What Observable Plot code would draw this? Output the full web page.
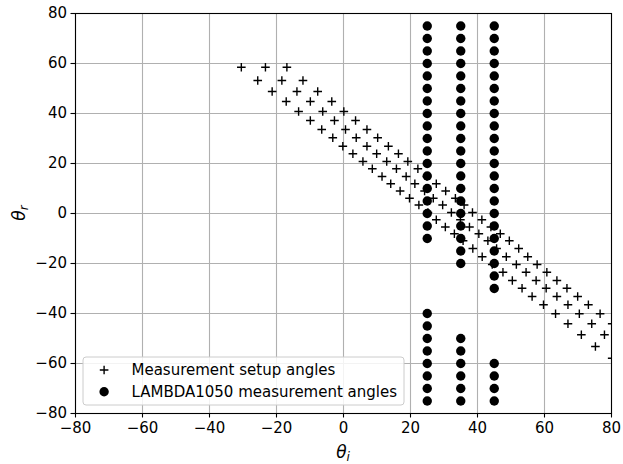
<!DOCTYPE html>
<html>
<head>
<meta charset="utf-8">
<script src="https://cdn.jsdelivr.net/npm/d3@7"></script>
<script src="https://cdn.jsdelivr.net/npm/@observablehq/plot@0.6"></script>
<style>
  html, body { margin: 0; padding: 0; background: #fff; }
  #chart svg { display: block; }
</style>
</head>
<body>
<div id="chart"></div>
<script>
// ---- data ----
const axisTicks = [-80, -60, -40, -20, 0, 20, 40, 60, 80];

// measurement setup angles: rows of equal theta_r, three parallel bands (A, B, C)
const setupThetaR = [58.5, 53.2, 48.8, 44.8, 40.8, 37.2, 33.6, 30.3, 26.9, 23.9, 20.8, 17.9, 14.8, 11.9, 9.0, 6.1, 3.4, 0.4, -2.5, -5.4, -8.1, -10.9, -14.0, -17.3, -20.4, -23.5, -26.8, -29.9, -33.2, -36.5, -40.1, -44.1, -48.5, -53.2, -57.9];
const setupThetaIA = [-30.5, -25.6, -21.3, -17.1, -13.4, -9.9, -6.5, -3.2, -0.2, 2.8, 5.8, 8.6, 11.5, 14.1, 16.9, 19.7, 22.5, 25.2, 27.7, 30.4, 33.1, 35.7, 38.6, 41.4, 44.4, 47.6, 50.4, 53.3, 56.3, 59.7, 63.3, 67.0, 71.0, 75.2, 80.2];
const setupThetaIB = [-23.3, -18.4, -13.9, -9.9, -6.2, -2.7, 0.6, 3.8, 7.0, 9.9, 12.9, 15.8, 18.7, 21.3, 24.2, 26.8, 29.6, 32.2, 34.9, 37.6, 40.4, 43.1, 45.7, 48.6, 51.6, 54.5, 57.5, 60.5, 63.7, 67.0, 70.4, 74.1, 77.9, null, null];
const setupThetaIC = [-16.9, -12.1, -7.7, -3.5, 0.1, 3.6, 7.0, 10.2, 13.4, 16.4, 19.2, 22.2, 24.9, 27.7, 30.5, 33.4, 36.0, 38.5, 41.3, 44.0, 46.8, 49.5, 52.3, 55.0, 57.8, 60.7, 63.7, 66.7, 69.9, 73.1, 76.6, 80.2, null, null, null];

// LAMBDA1050 measurement angles
const lambdaThetaI = [25, 35, 45];
const lambdaThetaR25 = [75, 70, 65, 60, 55, 50, 45, 40, 35, 30, 25, 20, 15, 10, 5, 0, -5, -10, -40, -45, -50, -55, -60, -65, -70, -75];
const lambdaThetaR35 = [75, 70, 65, 60, 55, 50, 45, 40, 35, 30, 25, 20, 15, 10, 5, 0, -5, -10, -15, -20, -50, -55, -60, -65, -70, -75];
const lambdaThetaR45 = [75, 70, 65, 60, 55, 50, 45, 40, 35, 30, 25, 20, 15, 10, 5, 0, -5, -10, -15, -20, -25, -30, -60, -65, -70, -75];

const legendLabels = ["Measurement setup angles", "LAMBDA1050 measurement angles"];

// ---- build tables ----
const setupPts = [];
[setupThetaIA, setupThetaIB, setupThetaIC].forEach(band => {
  band.forEach((ti, k) => { if (ti != null) setupPts.push({ti, tr: setupThetaR[k]}); });
});
const lambdaPts = [];
[lambdaThetaR25, lambdaThetaR35, lambdaThetaR45].forEach((col, j) => {
  col.forEach(tr => lambdaPts.push({ti: lambdaThetaI[j], tr}));
});

const plusSymbol = {
  draw(context, size) {
    const r = Math.sqrt(size / Math.PI);
    context.moveTo(-r, 0); context.lineTo(r, 0);
    context.moveTo(0, -r); context.lineTo(0, r);
  }
};

const W = 623, H = 464;
const mL = 75, mR = 12, mT = 13, mB = 51;

const chart = Plot.plot({
  width: W, height: H,
  marginLeft: mL, marginRight: mR, marginTop: mT, marginBottom: mB,
  style: {fontFamily: "DejaVu Sans", fontSize: "15px", color: "black", background: "white"},
  x: {domain: [-80, 80], label: null},
  y: {domain: [-80, 80], label: null},
  marks: [
    Plot.gridX(axisTicks, {stroke: "#b0b0b0", strokeOpacity: 1, strokeWidth: 1.1}),
    Plot.gridY(axisTicks, {stroke: "#b0b0b0", strokeOpacity: 1, strokeWidth: 1.1}),
    Plot.dot(setupPts, {x: "ti", y: "tr", symbol: plusSymbol, r: 4.3, fill: "none", stroke: "black", strokeWidth: 1.4, clip: true}),
    Plot.dot(lambdaPts, {x: "ti", y: "tr", r: 4.7, fill: "black", stroke: "none", clip: true}),
    Plot.frame({stroke: "black", strokeWidth: 1.1}),
    Plot.axisX({ticks: axisTicks, tickSize: 4.5, tickPadding: 4, stroke: "black", strokeWidth: 1.1, fontSize: 15}),
    Plot.axisY({ticks: axisTicks, tickSize: 4.5, tickPadding: 4, stroke: "black", strokeWidth: 1.1, fontSize: 15})
  ]
});

document.getElementById("chart").appendChild(chart);

// ---- axis labels and legend ----
const svg = d3.select(chart);
const xl = svg.append("text")
  .attr("x", mL + (W - mL - mR) / 2).attr("y", 458)
  .attr("text-anchor", "middle")
  .attr("font-family", "DejaVu Sans").attr("font-size", 17).attr("font-style", "italic")
  .attr("fill", "black");
xl.append("tspan").text("θ");
xl.append("tspan").attr("font-size", 12).attr("dy", 3).text("i");

const yl = svg.append("text")
  .attr("transform", `translate(25, ${mT + (H - mT - mB) / 2}) rotate(-90)`)
  .attr("text-anchor", "middle")
  .attr("font-family", "DejaVu Sans").attr("font-size", 17).attr("font-style", "italic")
  .attr("fill", "black");
yl.append("tspan").text("θ");
yl.append("tspan").attr("font-size", 12).attr("dy", 3).text("r");

const lg = svg.append("g").attr("transform", "translate(83, 357)");
lg.append("rect").attr("width", 321).attr("height", 48).attr("rx", 3)
  .attr("fill", "white").attr("fill-opacity", 0.85)
  .attr("stroke", "#cccccc").attr("stroke-width", 1);
// plus marker sample
lg.append("path").attr("d", "M16.8,13 h8.6 M21.1,8.7 v8.6")
  .attr("stroke", "black").attr("stroke-width", 1.4).attr("fill", "none");
lg.append("circle").attr("cx", 21.1).attr("cy", 34.7).attr("r", 4.7).attr("fill", "black");
legendLabels.forEach((t, i) => {
  lg.append("text").attr("x", 48.5).attr("y", 13 + i * 21.7).attr("dy", "0.35em")
    .attr("text-anchor", "start")
    .attr("font-family", "DejaVu Sans").attr("font-size", 15).attr("fill", "black").text(t);
});
</script>
</body>
</html>
